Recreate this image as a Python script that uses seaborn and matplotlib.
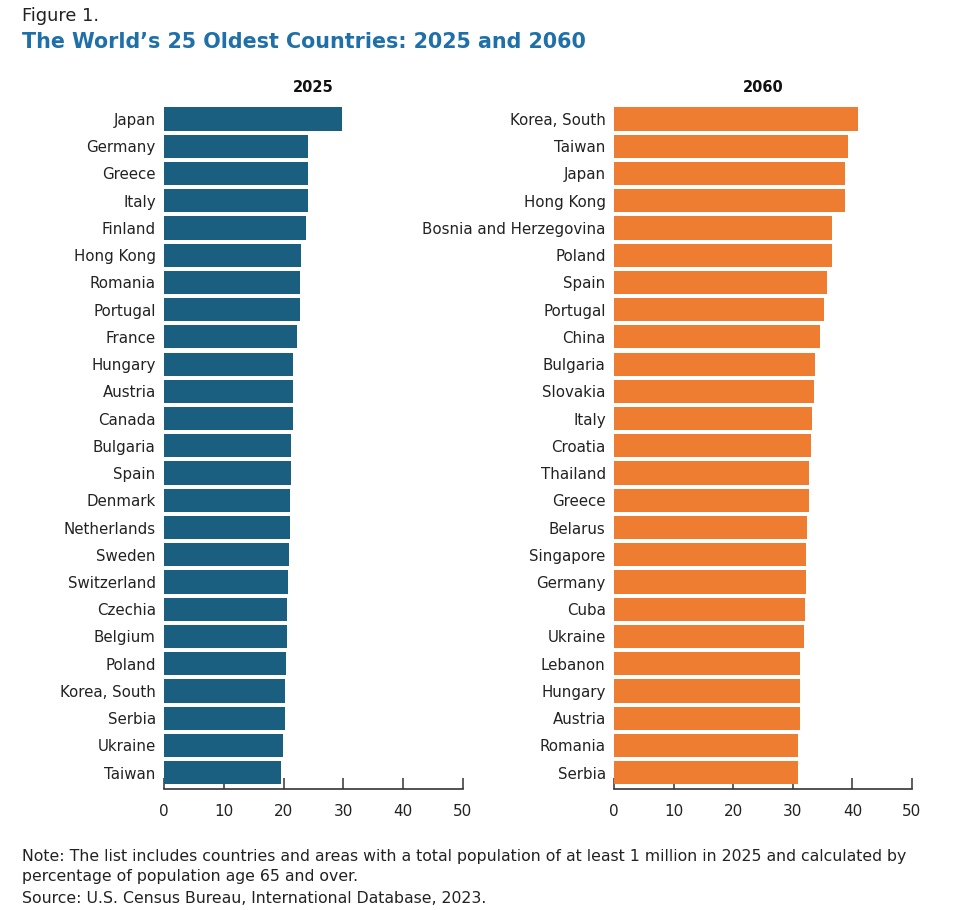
import matplotlib
matplotlib.use("Agg")
import matplotlib.pyplot as plt
import seaborn as sns
import pandas as pd

countries_2025 = ["Japan", "Germany", "Greece", "Italy", "Finland", "Hong Kong", "Romania",
                  "Portugal", "France", "Hungary", "Austria", "Canada", "Bulgaria", "Spain",
                  "Denmark", "Netherlands", "Sweden", "Switzerland", "Czechia", "Belgium",
                  "Poland", "Korea, South", "Serbia", "Ukraine", "Taiwan"]
values_2025 = [29.7, 24.1, 24.0, 24.0, 23.8, 22.9, 22.8, 22.7, 22.3, 21.6, 21.6, 21.6, 21.3,
               21.3, 21.1, 21.1, 20.9, 20.7, 20.5, 20.5, 20.4, 20.3, 20.2, 19.9, 19.6]

countries_2060 = ["Korea, South", "Taiwan", "Japan", "Hong Kong", "Bosnia and Herzegovina",
                  "Poland", "Spain", "Portugal", "China", "Bulgaria", "Slovakia", "Italy",
                  "Croatia", "Thailand", "Greece", "Belarus", "Singapore", "Germany", "Cuba",
                  "Ukraine", "Lebanon", "Hungary", "Austria", "Romania", "Serbia"]
values_2060 = [41.0, 39.3, 38.8, 38.7, 36.5, 36.5, 35.7, 35.2, 34.6, 33.7, 33.5, 33.3, 33.1,
               32.7, 32.7, 32.3, 32.2, 32.2, 32.1, 31.8, 31.2, 31.2, 31.2, 30.9, 30.9]

x_ticks = [0, 10, 20, 30, 40, 50]

sns.set_theme(style="white")
plt.rcParams['font.family'] = ['DejaVu Sans']

BLUE = "#1b5f80"
ORANGE = "#ee7d31"
TITLE_BLUE = "#1f70a8"

fig = plt.figure(figsize=(9.7, 9.1), dpi=100)
ax1 = fig.add_axes([164/970, 1-789/910, (463-164)/970, (789-104)/910])
ax2 = fig.add_axes([614/970, 1-789/910, (912-614)/970, (789-104)/910])

for ax, cats, vals, color, year in [(ax1, countries_2025, values_2025, BLUE, "2025"),
                                    (ax2, countries_2060, values_2060, ORANGE, "2060")]:
    df = pd.DataFrame({"country": cats, "value": vals})
    sns.barplot(data=df, x="value", y="country", color=color, orient="h",
                width=0.85, saturation=1, ax=ax, linewidth=0)
    ax.set_xlim(0, 50)
    ax.set_ylim(24.6, -0.55)
    ax.set_xticks(x_ticks)
    ax.set_xticklabels([str(t) for t in x_ticks], fontsize=11, color="#222222")
    ax.set_xlabel("")
    ax.set_ylabel("")
    for s in ["top", "right", "left"]:
        ax.spines[s].set_visible(False)
    ax.spines["bottom"].set_color("#333333")
    ax.spines["bottom"].set_linewidth(1.2)
    ax.tick_params(axis="x", direction="in", length=8, width=1.1, color="#333333", pad=11, bottom=True)
    ax.tick_params(axis="y", length=0, pad=6, labelsize=10.8, labelcolor="#222222")
    ax.set_title(year, fontsize=10.5, fontweight="bold", color="#111111", pad=9)

fig.text(22/970, 1-7/910, "Figure 1.", fontsize=12.8, color="#222222", va="top", ha="left")
fig.text(22/970, 1-32/910, "The World\u2019s 25 Oldest Countries: 2025 and 2060", fontsize=14.9,
         fontweight="bold", color=TITLE_BLUE, va="top", ha="left")

fig.text(22/970, 1-849/910,
         "Note: The list includes countries and areas with a total population of at least 1 million in 2025 and calculated by\n"
         "percentage of population age 65 and over.",
         fontsize=11.3, color="#222222", va="top", ha="left", linespacing=1.4)
fig.text(22/970, 1-891/910, "Source: U.S. Census Bureau, International Database, 2023.",
         fontsize=11.3, color="#222222", va="top", ha="left")

fig.savefig("out.png", dpi=100, facecolor="white")
